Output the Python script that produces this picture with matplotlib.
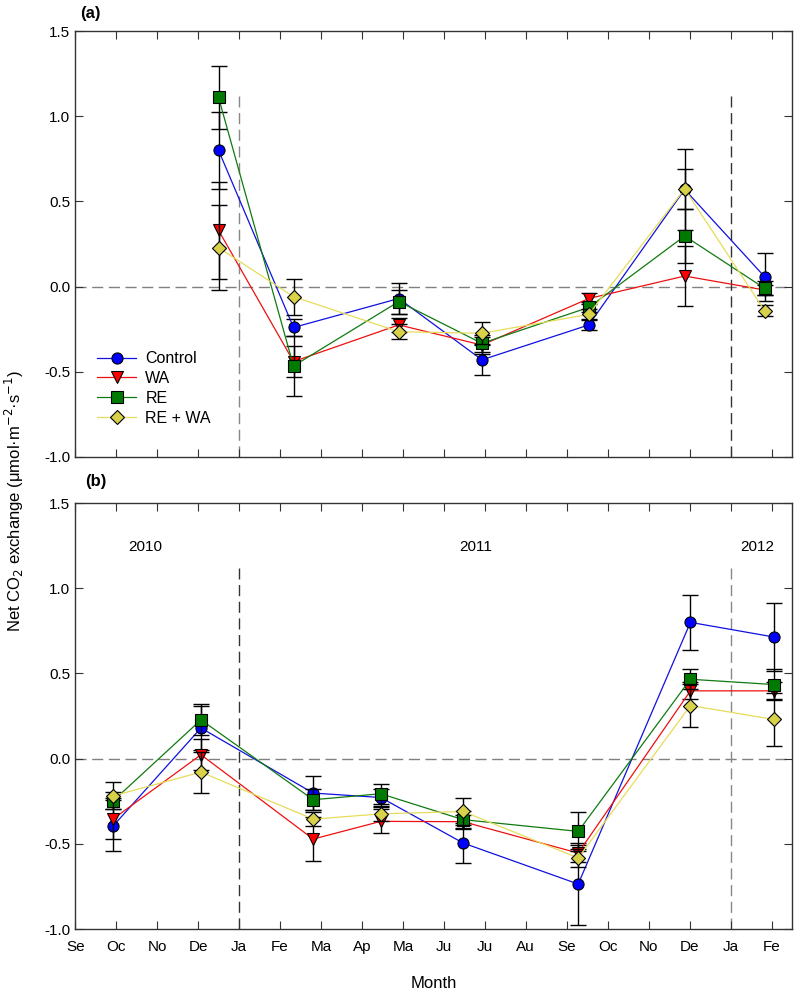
import numpy as np
import matplotlib
matplotlib.use("Agg")
import matplotlib.pyplot as plt

plt.rcParams['font.family'] = ['Liberation Sans', 'DejaVu Sans']

# month tick labels, Sep 2010 .. Feb 2012
months = ['Se', 'Oc', 'No', 'De', 'Ja', 'Fe', 'Ma', 'Ap', 'Ma', 'Ju',
          'Ju', 'Au', 'Se', 'Oc', 'No', 'De', 'Ja', 'Fe']
series_names = ['Control', 'WA', 'RE', 'RE + WA']

# panel (a)
a_x = [3.5, 5.33, 7.9, 9.93, 12.54, 14.88, 16.83]
a_ctrl = [0.80, -0.24, -0.07, -0.43, -0.225, 0.57, 0.058]
a_ctrl_se = [0.225, 0.05, 0.09, 0.09, 0.03, 0.235, 0.14]
a_wa = [0.33, -0.44, -0.225, -0.343, -0.07, 0.062, -0.02]
a_wa_se = [0.285, 0.09, 0.04, 0.05, 0.03, 0.175, 0.03]
a_re = [1.11, -0.466, -0.088, -0.333, -0.122, 0.297, -0.01]
a_re_se = [0.185, 0.175, 0.07, 0.05, 0.03, 0.16, 0.04]
a_rewa = [0.228, -0.059, -0.265, -0.274, -0.163, 0.573, -0.141]
a_rewa_se = [0.25, 0.105, 0.045, 0.065, 0.03, 0.115, 0.03]

# panel (b)
b_x = [0.93, 3.07, 5.81, 7.46, 9.47, 12.28, 15.02, 17.06]
b_ctrl = [-0.394, 0.18, -0.202, -0.228, -0.495, -0.736, 0.80, 0.714]
b_ctrl_se = [0.15, 0.13, 0.10, 0.05, 0.12, 0.24, 0.16, 0.20]
b_wa = [-0.353, 0.023, -0.472, -0.368, -0.37, -0.554, 0.398, 0.398]
b_wa_se = [0.12, 0.09, 0.13, 0.07, 0.04, 0.05, 0.05, 0.05]
b_re = [-0.247, 0.228, -0.241, -0.206, -0.358, -0.427, 0.466, 0.435]
b_re_se = [0.05, 0.09, 0.06, 0.06, 0.05, 0.115, 0.06, 0.09]
b_rewa = [-0.218, -0.079, -0.355, -0.324, -0.31, -0.583, 0.312, 0.23]
b_rewa_se = [0.08, 0.12, 0.04, 0.04, 0.08, 0.05, 0.125, 0.155]

years = ['2010', '2011', '2012']
year_x = [1.71, 9.78, 16.65]

styles = [
    dict(marker='o', mfc='#0000FF', color='#1010E0'),
    dict(marker='v', mfc='#FF0000', color='#EE1010'),
    dict(marker='s', mfc='#007A00', color='#107A10'),
    dict(marker='D', mfc='#D8D24A', color='#E6DC5A'),
]


def draw_panel(ax, x, ys, ses, vcolors):
    for i, (y, se) in enumerate(zip(ys, ses)):
        st = styles[i]
        ax.errorbar(x, y, yerr=se, fmt='none', ecolor='black', elinewidth=1,
                    capsize=6, capthick=1, zorder=2 + i)
        ms = 7 if st['marker'] == 'D' else 8
        ax.plot(x, y, color=st['color'], lw=0.9, marker=st['marker'],
                mfc=st['mfc'], mec='black', mew=0.8, ms=ms,
                label=series_names[i], zorder=3 + i)
    ax.axhline(0, color='#808080', lw=1, ls=(0, (8, 4)), zorder=1)
    ax.plot([4, 4], [-1.0, 1.12], color=vcolors[0], lw=1, ls=(0, (8, 4)), zorder=1)
    ax.plot([16, 16], [-1.0, 1.12], color=vcolors[1], lw=1, ls=(0, (8, 4)), zorder=1)
    ax.set_xlim(0, 17.5)
    ax.set_ylim(-1.0, 1.5)
    ax.set_xticks(np.arange(len(months)))
    ax.set_yticks(np.arange(-1.0, 1.51, 0.5))
    ax.set_yticklabels([f"{v:.1f}" for v in np.arange(-1.0, 1.51, 0.5)])
    ax.tick_params(direction='in', top=True, right=True, length=6,
                   labelsize=11, color='#333333')
    for sp in ax.spines.values():
        sp.set_color('#333333')
        sp.set_linewidth(1)


fig = plt.figure(figsize=(8, 10.01), dpi=100)
ax1 = fig.add_axes([0.094, 0.5435, 0.896, 0.4255])
ax2 = fig.add_axes([0.094, 0.0719, 0.896, 0.4255])

draw_panel(ax1, a_x, [a_ctrl, a_wa, a_re, a_rewa],
           [a_ctrl_se, a_wa_se, a_re_se, a_rewa_se], ['#888888', '#333333'])
ax1.set_xticklabels([])
ax1.legend(loc='lower left', bbox_to_anchor=(0.011, 0.04), frameon=False,
           fontsize=11.5, handlelength=2.4, handletextpad=0.6, labelspacing=0.3)

draw_panel(ax2, b_x, [b_ctrl, b_wa, b_re, b_rewa],
           [b_ctrl_se, b_wa_se, b_re_se, b_rewa_se], ['#333333', '#888888'])
ax2.set_xticklabels(months)
ax2.tick_params(axis='x', pad=8)
for yr, xx in zip(years, year_x):
    ax2.text(xx, 1.245, yr, ha='center', va='center', fontsize=11)
ax2.set_xlabel('Month', fontsize=12, labelpad=16)

fig.text(0.1, 0.987, '(a)', fontsize=12, fontweight='bold', va='center')
fig.text(0.106, 0.519, '(b)', fontsize=12, fontweight='bold', va='center')
fig.text(0.018, 0.50, 'Net CO$_2$ exchange (μmol·m$^{-2}$·s$^{-1}$)',
         rotation=90, ha='center', va='center', fontsize=12)

fig.savefig('out.png', dpi=100)
